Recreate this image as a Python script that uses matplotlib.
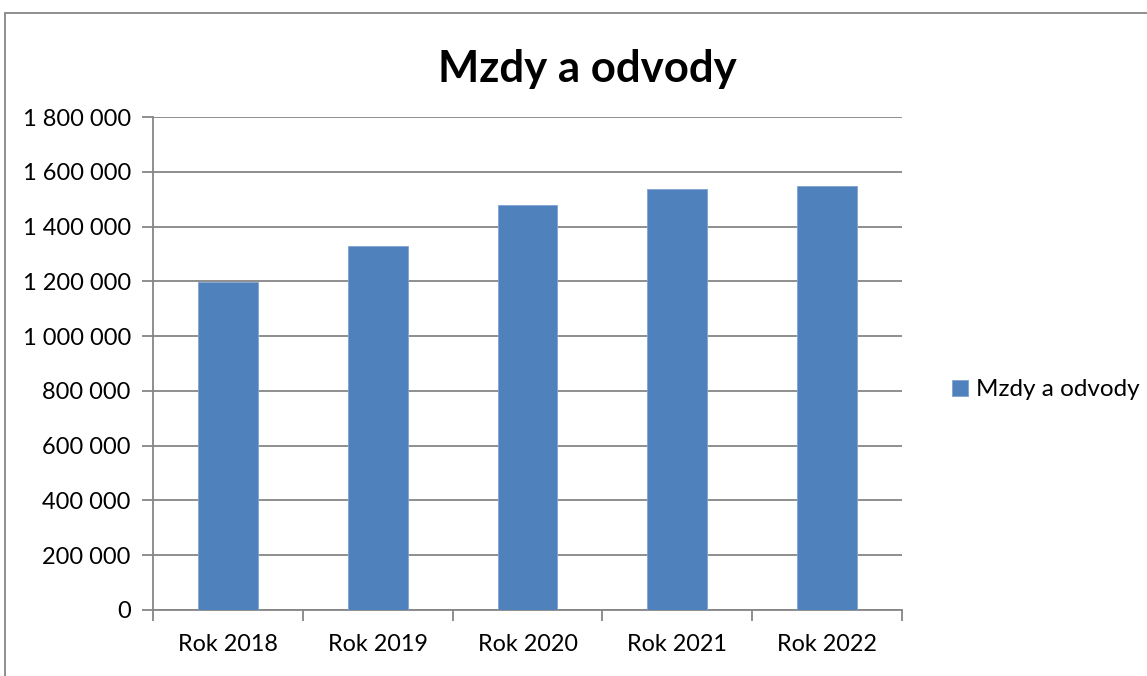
import matplotlib
matplotlib.use('Agg')
import matplotlib.pyplot as plt
import matplotlib.patches as mpatches
from matplotlib.ticker import FuncFormatter, MultipleLocator
import numpy as np

categories = ['Rok 2018', 'Rok 2019', 'Rok 2020', 'Rok 2021', 'Rok 2022']
values = [1198000, 1330000, 1477000, 1537000, 1548000]
series_name = 'Mzdy a odvody'
title = 'Mzdy a odvody'

plt.rcParams['font.family'] = ['Lato', 'DejaVu Sans']

grid_color = '#868686'
bar_color = '#4F81BD'


def space_thousands(v, pos):
  return f'{int(round(v)):,}'.replace(',', ' ')


def main():
  fig = plt.figure(figsize=(11.47, 6.76), dpi=100)
  ax = fig.add_axes([153 / 1147, 1 - 610 / 676, (902 - 153) / 1147, (610 - 117) / 676])

  x = np.arange(len(categories))
  ax.bar(x, values, width=0.4, color=bar_color, edgecolor='#7FA3D1', linewidth=0.6,
         label=series_name, zorder=3)

  ax.set_xlim(-0.5, len(categories) - 0.5)
  ax.set_ylim(0, 1800000)
  ax.yaxis.set_major_locator(MultipleLocator(200000))
  ax.yaxis.set_major_formatter(FuncFormatter(space_thousands))
  ax.grid(axis='y', color=grid_color, linewidth=1.3, zorder=0)

  ax.set_xticks(x)
  ax.set_xticklabels(categories)
  ax.set_xticks(np.arange(len(categories) + 1) - 0.5, minor=True)
  ax.tick_params(axis='x', which='major', length=0, pad=17, labelsize=16.8)
  ax.tick_params(axis='x', which='minor', length=8, width=1.3, color=grid_color, direction='out')
  ax.tick_params(axis='y', length=8, width=1.3, color=grid_color, direction='out',
                 labelsize=17, pad=8)

  for side in ['top', 'right']:
    ax.spines[side].set_visible(False)
  for side in ['left', 'bottom']:
    ax.spines[side].set_color(grid_color)
    ax.spines[side].set_linewidth(1.3)

  fig.text(587 / 1147, 1 - 69 / 676, title, ha='center', va='center',
           fontsize=31.5, fontweight='bold')

  ax.legend(loc='center left', bbox_to_anchor=(930 / 1147, 1 - 390 / 676),
            bbox_transform=fig.transFigure, frameon=False, fontsize=17.5,
            handlelength=0.65, handleheight=0.65, handletextpad=0.35)

  border = mpatches.Rectangle((5 / 1147, -0.05), 1.1, 1 - 13 / 676 + 0.05,
                              transform=fig.transFigure, fill=False,
                              edgecolor=grid_color, linewidth=1.3, clip_on=False)
  fig.patches.append(border)

  fig.savefig('out.png', dpi=100, facecolor='white')


if __name__ == '__main__':
  main()
